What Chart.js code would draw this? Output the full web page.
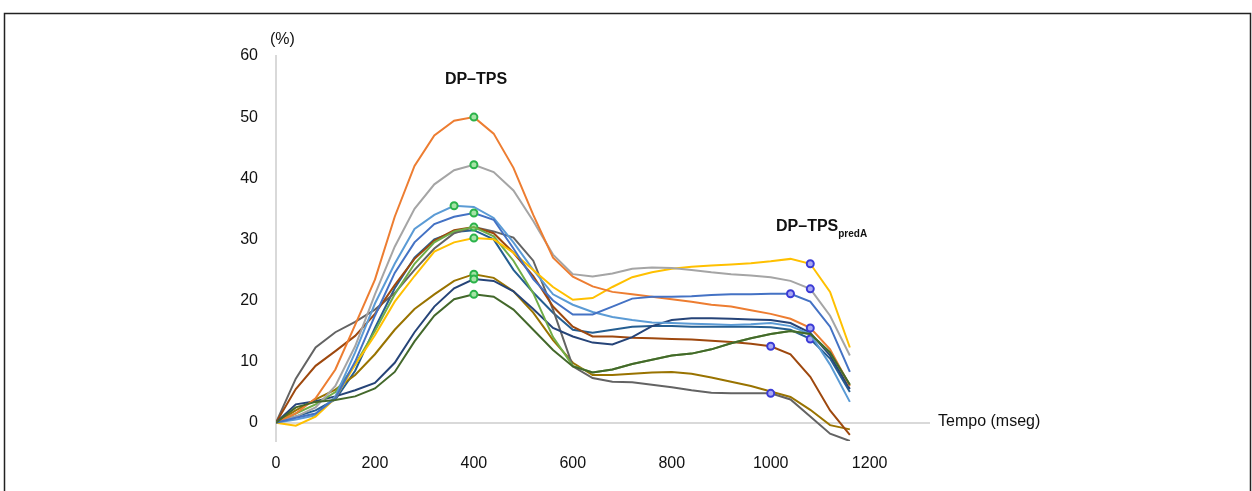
<!DOCTYPE html>
<html>
<head>
<meta charset="utf-8">
<script src="https://cdn.jsdelivr.net/npm/chart.js@4.4.1/dist/chart.umd.min.js"></script>
<style>
  html, body { margin: 0; padding: 0; background: #fff; }
  #wrap { width: 1252px; height: 491px; }
</style>
</head>
<body>
<div id="wrap"><canvas id="grafico"></canvas></div>
<script>
// tempo (mseg), um ponto a cada 40 ms
const tempo = [0, 40, 80, 120, 160, 200, 240, 280, 320, 360, 400, 440, 480, 520, 560,
               600, 640, 680, 720, 760, 800, 840, 880, 920, 960, 1000, 1040, 1080, 1120, 1160];

const azul       = [0, 0.8, 1.5, 4, 10, 17.5, 24.5, 29.5, 32.5, 33.7, 34.3, 33.2, 28.5, 23.5, 20, 17.7, 17.7, 19, 20.3, 20.6, 20.6, 20.7, 20.9, 21, 21, 21.1, 21.1, 19.8, 15.7, 8.3];
const laranja    = [0, 1.5, 4, 8.7, 16, 23.4, 33.7, 42, 47, 49.4, 50, 47.3, 41.7, 34, 27, 23.9, 22.3, 21.4, 21, 20.6, 20.2, 19.8, 19.3, 19, 18.4, 17.8, 17, 15.5, 12, 6];
const cinza      = [0, 1, 2.5, 6, 12.5, 21, 28.8, 35, 39, 41.3, 42.2, 41, 38, 33, 27.5, 24.3, 23.9, 24.4, 25.2, 25.4, 25.3, 25, 24.6, 24.3, 24.1, 23.8, 23.2, 21.9, 17.5, 11];
const amarelo    = [0, -0.5, 1, 4, 9.5, 14.3, 19.8, 24, 28, 29.5, 30.2, 30, 27.8, 25, 22.2, 20.1, 20.4, 22.2, 23.8, 24.6, 25.2, 25.5, 25.7, 25.9, 26.1, 26.4, 26.8, 26, 21.4, 12.3];
const azulClaro  = [0, 0.5, 1.2, 4.3, 11.5, 19.5, 26, 31.7, 34, 35.5, 35.3, 33.5, 29.5, 25, 21, 19.3, 18.1, 17.3, 16.8, 16.4, 16.3, 16.2, 16.1, 16, 16.1, 16.3, 15.8, 14.5, 9.5, 3.4];
const verde      = [0, 1.5, 3, 5, 9.5, 15, 21, 26, 29.5, 31.3, 32, 30.5, 26.5, 21.2, 14, 9.3, 8.2, 8.7, 9.6, 10.3, 11, 11.3, 12, 13, 13.8, 14.5, 15, 14.5, 11.5, 6.2];
const marinho    = [0, 3, 3.5, 4.3, 5.3, 6.5, 9.8, 14.8, 19, 22, 23.5, 23.2, 21.5, 18.6, 15.5, 14.1, 13.1, 12.8, 14, 15.8, 16.8, 17.1, 17.1, 17, 16.9, 16.8, 16.3, 14.7, 11, 5.5];
const marrom     = [0, 5.5, 9.3, 11.7, 14.2, 17.8, 22.5, 26.8, 29.8, 31.5, 32, 31, 27.8, 24, 19, 15.7, 14.1, 14.1, 13.9, 13.8, 13.7, 13.6, 13.4, 13.2, 12.9, 12.5, 11.2, 7.5, 2, -2];
const cinzaEsc   = [0, 7.2, 12.3, 14.8, 16.5, 18.5, 21.2, 25, 28.5, 31, 32, 31.3, 30.3, 26.5, 18.5, 9.2, 7.3, 6.7, 6.6, 6.2, 5.8, 5.3, 4.9, 4.8, 4.8, 4.8, 3.8, 1, -1.8, -3];
const ouro       = [0, 2, 3.8, 5.4, 7.8, 11.2, 15.2, 18.6, 21, 23.2, 24.3, 23.7, 21.5, 18, 13.5, 9.8, 7.8, 7.8, 8, 8.2, 8.3, 8, 7.4, 6.7, 6, 5.1, 4.2, 2.1, -0.4, -1.1];
const petroleo   = [0, 1, 2, 3.8, 8.5, 15.5, 22, 27, 30, 31.2, 31.5, 30, 25, 21.3, 18, 15.2, 14.7, 15.2, 15.7, 15.8, 15.8, 15.7, 15.7, 15.7, 15.7, 15.6, 15.2, 13.7, 10.5, 5];
const verdeEsc   = [0, 2.5, 3.4, 3.7, 4.3, 5.6, 8.3, 13.3, 17.5, 20.2, 21, 20.6, 18.5, 15.2, 11.9, 9.2, 8.2, 8.7, 9.6, 10.3, 11, 11.3, 12, 13, 13.8, 14.5, 15, 14.5, 11.5, 6.2];

const series = [azul, laranja, cinza, amarelo, azulClaro, verde, marinho, marrom, cinzaEsc, ouro, petroleo, verdeEsc];
const cores = ['#4472C4', '#ED7D31', '#A5A5A5', '#FFC000', '#5B9BD5', '#70AD47',
               '#264478', '#9E480E', '#636363', '#997300', '#255E91', '#43682B'];

// índice do ponto DP-TPS (verde) e DP-TPSpredA (azul) em cada série
const idxTPS   = [10, 10, 10, 10, 9, null, 10, 10, null, 10, null, 10];
const idxPredA = [26, 27, 27, 27, null, null, null, 25, 25, null, 27, null];

const xTicks = [0, 200, 400, 600, 800, 1000, 1200];
const yTicks = [0, 10, 20, 30, 40, 50, 60];

const fonte = "'Liberation Sans', Arial, sans-serif";

const datasets = series.map((vals, s) => ({
    label: 'S' + (s + 1),
    data: tempo.map((t, i) => ({ x: t, y: vals[i] })),
    borderColor: cores[s],
    borderWidth: 2,
    tension: 0,
    order: s === 11 ? -1 : 0,
    pointRadius: ctx => (ctx.dataIndex === idxTPS[s] || ctx.dataIndex === idxPredA[s]) ? 3.5 : 0,
    pointBorderWidth: 2,
    pointBorderColor: ctx => ctx.dataIndex === idxTPS[s] ? '#2bb34a' : '#3b3bd6',
    pointBackgroundColor: ctx => ctx.dataIndex === idxTPS[s] ? '#a6e3a6' : '#a9a9f2'
}));

const textos = {
    id: 'textos',
    afterDraw(chart) {
        const { ctx, chartArea, scales } = chart;
        ctx.save();
        // moldura
        ctx.strokeStyle = '#222';
        ctx.lineWidth = 1.5;
        ctx.beginPath();
        ctx.moveTo(4.5, 491);
        ctx.lineTo(4.5, 13.5);
        ctx.lineTo(1250.5, 13.5);
        ctx.lineTo(1250.5, 491);
        ctx.stroke();

        ctx.fillStyle = '#111';
        ctx.textBaseline = 'middle';
        ctx.font = '16px ' + fonte;
        ctx.textAlign = 'left';
        ctx.fillText('(%)', chartArea.left - 6, chartArea.top - 16);
        ctx.fillText('Tempo (mseg)', chartArea.right + 8, scales.y.getPixelForValue(0) - 1);

        ctx.font = 'bold 16px ' + fonte;
        ctx.textAlign = 'center';
        ctx.fillText('DP\u2013TPS', 476, 80);
        ctx.textAlign = 'left';
        ctx.fillText('DP\u2013TPS', 776, 227);
        const w = ctx.measureText('DP\u2013TPS').width;
        ctx.font = 'bold 10px ' + fonte;
        ctx.fillText('predA', 776 + w, 234);
        ctx.restore();
    }
};

new Chart(document.getElementById('grafico'), {
    type: 'line',
    data: { datasets },
    options: {
        responsive: true,
        maintainAspectRatio: false,
        animation: false,
        events: [],
        layout: { padding: { left: 0, right: 322, top: 56, bottom: 0 } },
        plugins: { legend: { display: false }, tooltip: { enabled: false } },
        scales: {
            x: {
                type: 'linear',
                min: 0,
                max: 1322,
                afterBuildTicks: sc => { sc.ticks = xTicks.map(v => ({ value: v })); },
                afterFit: sc => { sc.height = 50; },
                grid: { display: false },
                border: { display: false },
                ticks: { padding: 5, color: '#111', font: { family: fonte, size: 16 }, callback: v => String(v) }
            },
            y: {
                min: -3,
                max: 60,
                afterBuildTicks: sc => { sc.ticks = yTicks.map(v => ({ value: v })); },
                afterFit: sc => { sc.width = 276; },
                grid: {
                    drawTicks: false,
                    lineWidth: 2,
                    color: c => c.tick && c.tick.value === 0 ? '#d9d9d9' : 'rgba(0,0,0,0)'
                },
                border: { display: true, color: '#d9d9d9', width: 2 },
                ticks: { padding: 18, color: '#111', font: { family: fonte, size: 16 }, callback: v => String(v) }
            }
        }
    },
    plugins: [textos]
});
</script>
</body>
</html>
